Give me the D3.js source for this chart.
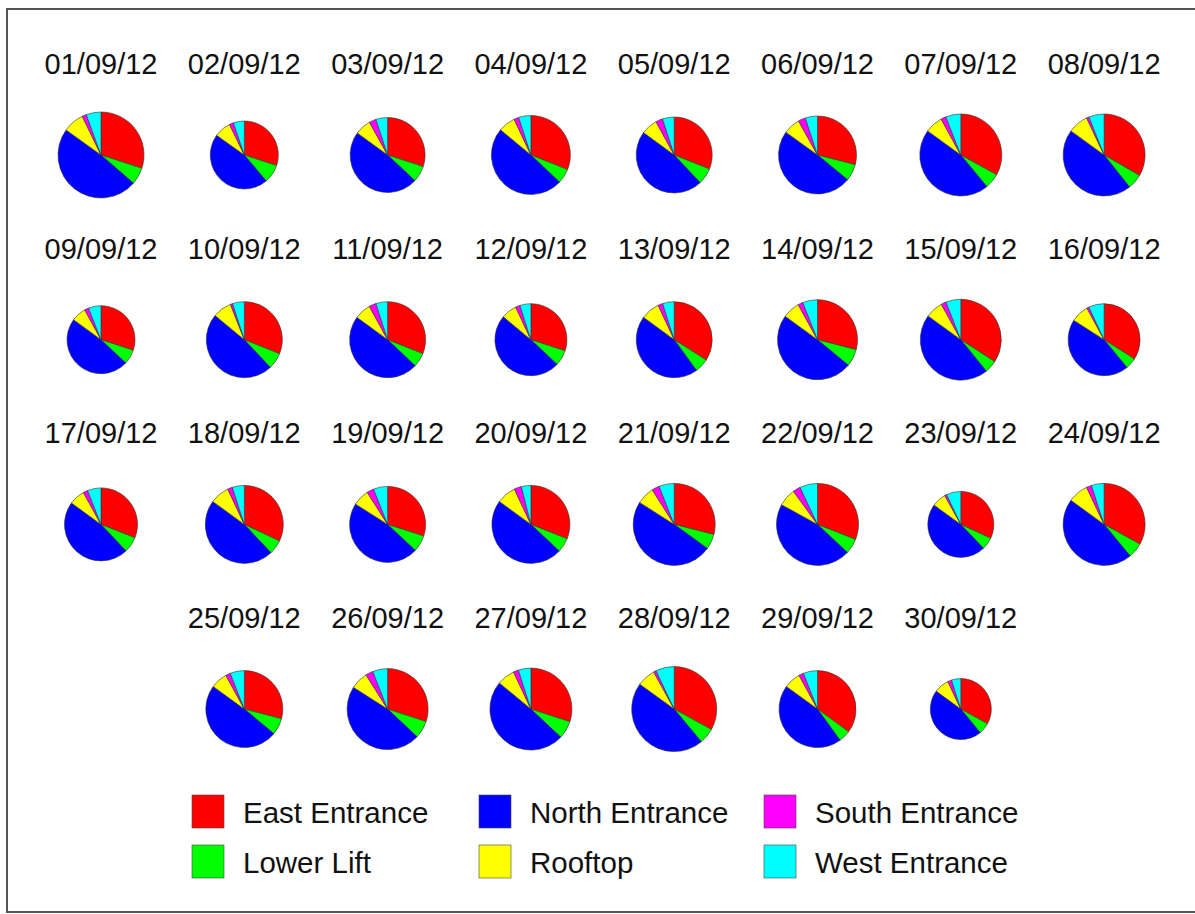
<!DOCTYPE html>
<meta charset="utf-8">
<body style="margin:0;background:white">
  <div id="content"></div>
</body>
<script src="https://cdn.jsdelivr.net/npm/d3@7"></script>
<script>
// chart settings
var chart = {
    width: 1195,
    height: 914,
    colStep: 143.3,
    rowStep: 184.7,
    firstCol: 101,
    pieTop: 155,
    labelTop: 74,
    maxRadius: 43
};

var entrances = ["East Entrance", "Lower Lift", "North Entrance", "Rooftop", "South Entrance", "West Entrance"];
var colors = ["#ff0000", "#00ff00", "#0000ff", "#ffff00", "#ff00ff", "#00ffff"];

var dates = ["01/09/12", "02/09/12", "03/09/12", "04/09/12", "05/09/12", "06/09/12", "07/09/12", "08/09/12",
    "09/09/12", "10/09/12", "11/09/12", "12/09/12", "13/09/12", "14/09/12", "15/09/12", "16/09/12",
    "17/09/12", "18/09/12", "19/09/12", "20/09/12", "21/09/12", "22/09/12", "23/09/12", "24/09/12",
    "25/09/12", "26/09/12", "27/09/12", "28/09/12", "29/09/12", "30/09/12"];

// daily counts per entrance (same order as dates)
var east  = [555, 347, 422, 484, 448, 441, 555, 560, 347, 448, 448, 389, 491, 464, 560, 441, 413, 487, 433, 472, 487, 521, 348, 555, 430, 492, 504, 596, 519, 307];
var lower = [118, 102, 98, 94, 101, 106, 101, 101, 81, 101, 87, 91, 87, 112, 82, 65, 93, 91, 101, 91, 101, 101, 65, 101, 104, 115, 118, 108, 74, 56];
var north = [897, 532, 675, 764, 679, 745, 773, 768, 555, 693, 693, 635, 650, 784, 752, 583, 626, 715, 679, 730, 824, 773, 512, 773, 726, 771, 824, 831, 667, 428];
var roof  = [146, 92, 98, 109, 101, 106, 118, 134, 81, 116, 101, 91, 116, 112, 115, 104, 93, 122, 101, 122, 118, 118, 76, 134, 104, 115, 118, 126, 104, 74];
var south = [30, 23, 42, 31, 43, 46, 34, 17, 23, 14, 43, 26, 29, 32, 33, 13, 27, 30, 43, 46, 50, 50, 11, 34, 30, 49, 34, 18, 30, 19];
var west  = [103, 60, 71, 78, 72, 77, 100, 101, 69, 72, 72, 64, 71, 96, 98, 90, 80, 76, 87, 60, 101, 118, 77, 84, 88, 98, 83, 127, 88, 46];

var series = [east, lower, north, roof, south, west];

window.onload = function () {
    var svg = d3.select('#content').append('svg')
        .attr('width', chart.width).attr('height', chart.height)
        .style('display', 'block')
        .style('font-family', '"Liberation Sans", Arial, sans-serif');

    // frame (right side runs off the page)
    svg.append('rect')
        .attr('x', 7).attr('y', 9)
        .attr('width', chart.width + 10).attr('height', 903)
        .attr('fill', 'none').attr('stroke', '#555').attr('stroke-width', 2);

    var days = dates.map(function (d, i) {
        var vals = series.map(function (s) { return s[i]; });
        return { date: d, values: vals, total: d3.sum(vals), index: i };
    });

    var radius = d3.scaleSqrt()
        .domain([0, d3.max(days, function (d) { return d.total; })])
        .range([0, chart.maxRadius]);

    var pie = d3.pie().sort(null);
    var arc = d3.arc().innerRadius(0);

    function position(i) {
        var row = Math.floor(i / 8);
        var col = i % 8;
        if (row === 3) col += 1; // last row is shifted by one column
        return { x: chart.firstCol + col * chart.colStep, row: row };
    }

    var groups = svg.selectAll('g.day').data(days).enter().append('g')
        .attr('class', 'day')
        .attr('transform', function (d) {
            var p = position(d.index);
            return 'translate(' + p.x + ',0)';
        });

    groups.append('text')
        .attr('text-anchor', 'middle')
        .attr('y', function (d) { return chart.labelTop + position(d.index).row * chart.rowStep; })
        .attr('font-size', 29)
        .attr('fill', '#111')
        .text(function (d) { return d.date; });

    groups.each(function (d) {
        var r = radius(d.total);
        var g = d3.select(this).append('g')
            .attr('transform', 'translate(0,' + (chart.pieTop + position(d.index).row * chart.rowStep) + ')');
        g.selectAll('path').data(pie(d.values)).enter().append('path')
            .attr('d', function (a) { return arc.outerRadius(r)(a); })
            .attr('fill', function (a, j) { return colors[j]; })
            .attr('stroke', '#333')
            .attr('stroke-width', 0.6);
    });

    // legend
    var legendCols = [192, 479, 764];
    var legendRows = [795, 845];
    var legend = svg.selectAll('g.legend').data(entrances).enter().append('g')
        .attr('class', 'legend')
        .attr('transform', function (d, i) {
            return 'translate(' + legendCols[Math.floor(i / 2)] + ',' + legendRows[i % 2] + ')';
        });
    legend.append('rect')
        .attr('width', 32).attr('height', 33)
        .attr('fill', function (d, i) { return colors[i]; })
        .attr('stroke', '#444').attr('stroke-width', 0.6);
    legend.append('text')
        .attr('x', 51).attr('y', 28)
        .attr('font-size', 29.5)
        .attr('fill', '#111')
        .text(function (d) { return d; });
};
</script>
